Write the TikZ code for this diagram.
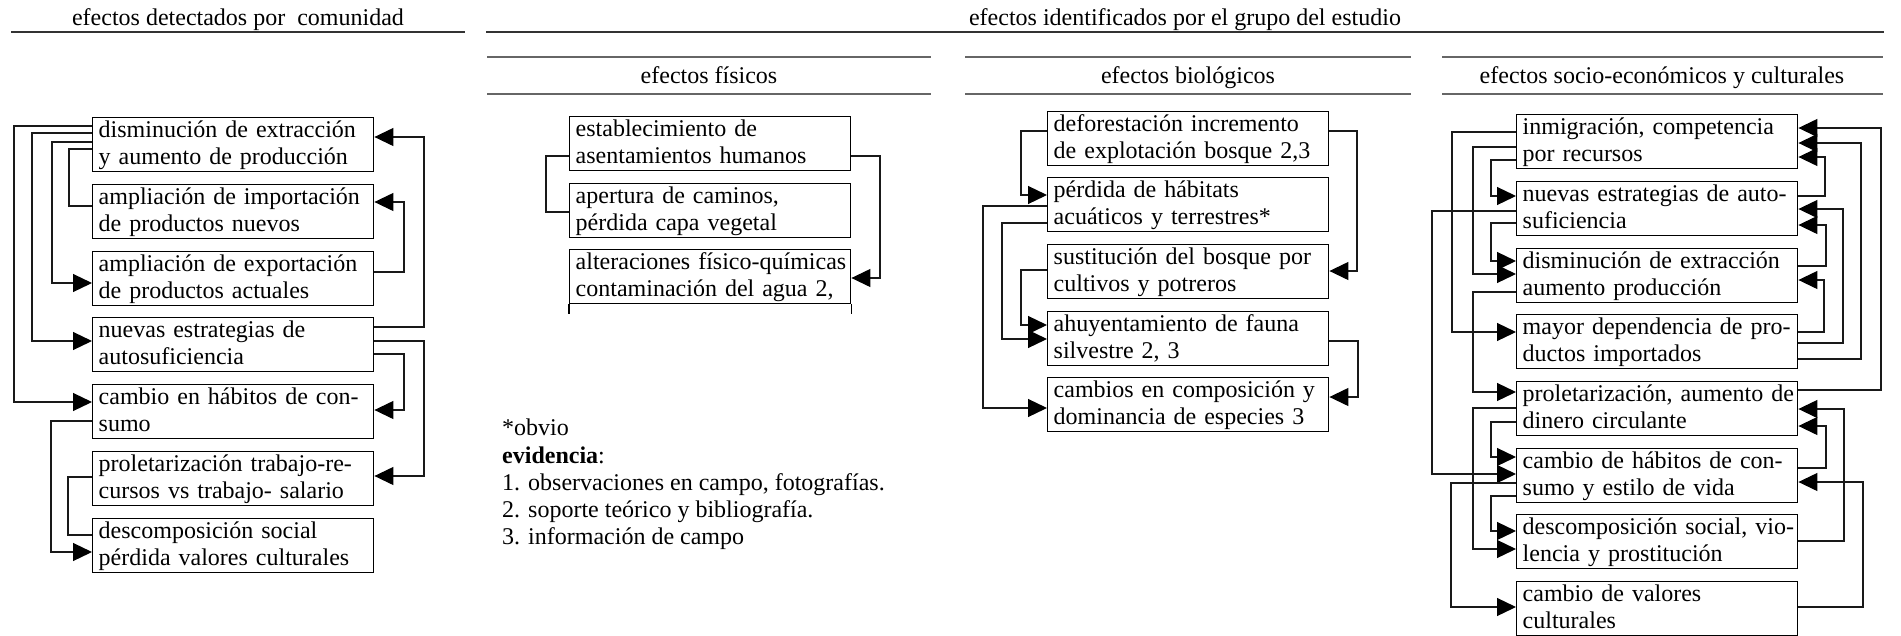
\documentclass[tikz,border=0pt]{standalone}
\usepackage{fontspec}
\setmainfont{Liberation Serif}
\usetikzlibrary{arrows.meta}
\newcommand\twoline[2]{\rule{0pt}{20pt}\mbox{#1}\\\mbox{#2}\rule[-7pt]{0pt}{7pt}}
\newcommand\conlink[6]{\draw[#1] (#2 |- 0,#3) -- (#4,#3) |- (#5 |- 0,#6);}
\begin{document}
\begin{tikzpicture}[x=1pt,y=-1pt,
  box/.style={draw=black, line width=1.4pt, anchor=north west, minimum width=281pt,
    minimum height=54pt, text width=269pt, inner xsep=6pt, inner ysep=0pt, align=left,
    font=\fontsize{24pt}{27pt}\selectfont},
  txt/.style={font=\fontsize{24pt}{27pt}\selectfont, inner sep=0pt},
  conn/.style={draw=black!90, line width=1.2pt},
  arr/.style={conn, -{Triangle[length=19pt,width=18pt,color=black]}},
  ruleA/.style={draw=black!80, line width=1.5pt},
  ruleB/.style={draw=black!60, line width=1.8pt}]
\fill[white] (0,0) rectangle (1901,635);
\useasboundingbox (0,0) rectangle (1901,635);

% headers
\node[txt, anchor=base] (hcom) at (238,25) {efectos detectados por\ \ comunidad};
\draw[ruleA] (11,32) -- (465,32);
\node[txt, anchor=base] (hest) at (1185,25) {efectos identificados por el grupo del estudio};
\draw[ruleA] (486,32) -- (1884,32);
\draw[ruleB] (487,57) -- (931,57);
\draw[ruleB] (487,94) -- (931,94);
\draw[ruleB] (965,57) -- (1411,57);
\draw[ruleB] (965,94) -- (1411,94);
\draw[ruleB] (1442,57) -- (1883,57);
\draw[ruleB] (1442,94) -- (1883,94);
\node[txt, anchor=base] (hfis) at (709,83) {efectos físicos};
\node[txt, anchor=base] (hbio) at (1188,83) {efectos biológicos};
\node[txt, anchor=base] (hsoc) at (1662,83) {efectos socio-económicos y culturales};

% left column
\node[box] (L1) at (92,117) {\twoline{disminución de extracción}{y aumento de producción}};
\node[box] (L2) at (92,184) {\twoline{ampliación de importación}{de productos nuevos}};
\node[box] (L3) at (92,251) {\twoline{ampliación de exportación}{de productos actuales}};
\node[box] (L4) at (92,317) {\twoline{nuevas estrategias de}{autosuficiencia}};
\node[box] (L5) at (92,384) {\twoline{cambio en hábitos de con-}{sumo}};
\node[box] (L6) at (92,451) {\twoline{proletarización trabajo-re-}{cursos vs trabajo- salario}};
\node[box] (L7) at (92,518) {\twoline{descomposición social}{pérdida valores culturales}};

% physical
\node[box] (P1) at (569,116) {\twoline{establecimiento de}{asentamientos humanos}};
\node[box] (P2) at (569,183) {\twoline{apertura de caminos,}{pérdida capa vegetal}};
\node[box] (P3) at (569,249) {\twoline{alteraciones físico-químicas}{contaminación del agua 2,}};
\draw[line width=1.4pt] (P3.south west) -- ++(0,10);
\draw[line width=1.4pt] (P3.south east) -- ++(0,10);

% biological
\node[box] (B1) at (1047,111) {\twoline{deforestación incremento}{de explotación bosque 2,3}};
\node[box] (B2) at (1047,177) {\twoline{pérdida de hábitats}{acuáticos y terrestres*}};
\node[box] (B3) at (1047,244) {\twoline{sustitución del bosque por}{cultivos y potreros}};
\node[box] (B4) at (1047,311) {\twoline{ahuyentamiento de fauna}{silvestre 2, 3}};
\node[box] (B5) at (1047,377) {\twoline{cambios en composición y}{dominancia de especies 3}};

% socio-economic
\node[box] (S1) at (1516,114) {\twoline{inmigración, competencia}{por recursos}};
\node[box] (S2) at (1516,181) {\twoline{nuevas estrategias de auto-}{suficiencia}};
\node[box] (S3) at (1516,248) {\twoline{disminución de extracción}{aumento producción}};
\node[box] (S4) at (1516,314) {\twoline{mayor dependencia de pro-}{ductos importados}};
\node[box] (S5) at (1516,381) {\twoline{proletarización, aumento de}{dinero circulante}};
\node[box] (S6) at (1516,448) {\twoline{cambio de hábitos de con-}{sumo y estilo de vida}};
\node[box] (S7) at (1516,514) {\twoline{descomposición social, vio-}{lencia y prostitución}};
\node[box] (S8) at (1516,581) {\twoline{cambio de valores}{culturales}};

% legend
\node[txt, anchor=base west] (n1) at (502,435) {*obvio};
\node[txt, anchor=base west] (n2) at (502,463) {\textbf{evidencia}:};
\node[txt, anchor=base west] (n3) at (502,490) {1. observaciones en campo, fotografías.};
\node[txt, anchor=base west] (n4) at (502,517) {2. soporte teórico y bibliografía.};
\node[txt, anchor=base west] (n5) at (502,544) {3. información de campo};

% left connectors
\conlink{arr}{L1.west}{126}{14}{L5.west}{402}
\conlink{arr}{L1.west}{133}{32}{L4.west}{341}
\conlink{arr}{L1.west}{142}{52}{L3.west}{283}
\conlink{conn}{L1.west}{149}{69}{L2.west}{206}
\conlink{arr}{L4.east}{327}{424}{L1.east}{137}
\conlink{arr}{L3.east}{272}{404}{L2.east}{202}
\conlink{arr}{L4.east}{341}{424}{L6.east}{476}
\conlink{arr}{L4.east}{354}{404}{L5.east}{410}
\conlink{arr}{L5.west}{421}{51}{L7.west}{552}
\conlink{conn}{L6.west}{477}{68}{L7.west}{535}

% physical connectors
\conlink{conn}{P1.west}{156}{546}{P2.west}{212}
\conlink{arr}{P1.east}{156}{880}{P3.east}{278}

% biological connectors
\conlink{arr}{B1.west}{131}{1021}{B2.west}{195}
\conlink{arr}{B1.east}{131}{1357}{B3.east}{271}
\conlink{arr}{B2.west}{206}{983}{B5.west}{408}
\conlink{arr}{B2.west}{223}{1002}{B4.west}{339}
\conlink{arr}{B3.west}{270}{1021}{B4.west}{325}
\conlink{arr}{B4.east}{341}{1358}{B5.east}{397}

% socio left connectors
\conlink{arr}{S1.west}{132}{1452}{S4.west}{332}
\conlink{arr}{S1.west}{147}{1473}{S3.west}{274}
\conlink{arr}{S1.west}{160}{1491}{S2.west}{196}
\conlink{arr}{S2.west}{211}{1432}{S6.west}{474}
\conlink{arr}{S2.west}{223}{1491}{S3.west}{261}
\conlink{arr}{S3.west}{292}{1473}{S5.west}{392}
\conlink{arr}{S5.west}{408}{1473}{S7.west}{549}
\conlink{arr}{S5.west}{422}{1491}{S6.west}{457}
\conlink{arr}{S6.west}{483}{1451}{S8.west}{607}
\conlink{arr}{S6.west}{496}{1491}{S7.west}{531}

% socio right connectors
\conlink{arr}{S5.east}{390}{1881}{S1.east}{128}
\conlink{arr}{S4.east}{359}{1861}{S1.east}{143}
\conlink{arr}{S2.east}{196}{1825}{S1.east}{157}
\conlink{arr}{S4.east}{343}{1843}{S2.east}{209}
\conlink{arr}{S3.east}{266}{1826}{S2.east}{225}
\conlink{arr}{S4.east}{332}{1824}{S3.east}{280}
\conlink{arr}{S7.east}{541}{1844}{S5.east}{409}
\conlink{arr}{S6.east}{468}{1826}{S5.east}{426}
\conlink{arr}{S8.east}{607}{1863}{S6.east}{482}
\end{tikzpicture}
\end{document}
